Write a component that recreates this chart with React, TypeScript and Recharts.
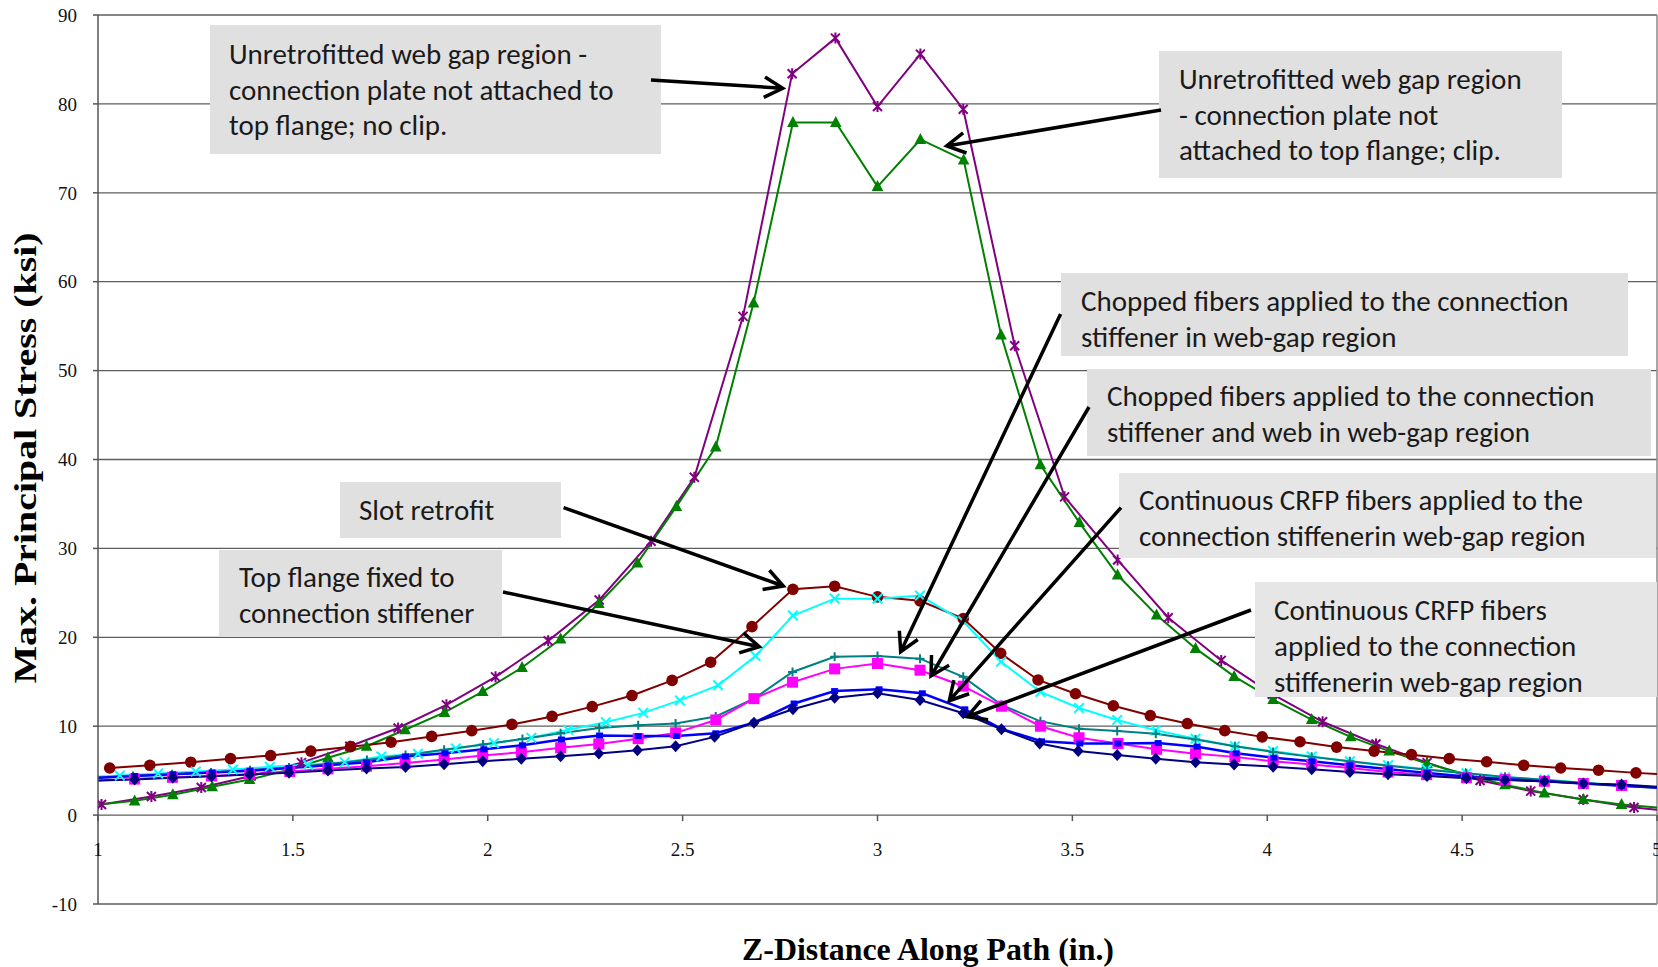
import React from 'react';
import { LineChart, Line, XAxis, YAxis, CartesianGrid, ReferenceLine } from 'recharts';

// ---------- data ----------
const X_TICKS = [1, 1.5, 2, 2.5, 3, 3.5, 4, 4.5, 5];
const Y_TICKS = [-10, 0, 10, 20, 30, 40, 50, 60, 70, 80, 90];

const NO_CLIP_X = [1.009, 1.137, 1.265, 1.393, 1.522, 1.646, 1.77, 1.894, 2.02, 2.155, 2.286, 2.419, 2.53, 2.655, 2.781, 2.892, 3.0, 3.11, 3.22, 3.352, 3.48, 3.616, 3.746, 3.882, 4.013, 4.142, 4.279, 4.41, 4.546, 4.676, 4.811, 4.941, 5.0];
const NO_CLIP_Y = [1.2, 2.1, 3.1, 4.4, 5.9, 7.75, 9.8, 12.4, 15.55, 19.6, 24.2, 30.8, 38.0, 56.1, 83.4, 87.4, 79.7, 85.6, 79.4, 52.8, 35.8, 28.7, 22.2, 17.4, 13.6, 10.5, 8.0, 5.9, 3.9, 2.7, 1.75, 0.85, 0.6];

const CLIP_X = [1.0, 1.094, 1.192, 1.293, 1.389, 1.49, 1.59, 1.689, 1.788, 1.889, 1.987, 2.088, 2.187, 2.285, 2.384, 2.484, 2.585, 2.682, 2.783, 2.893, 3.0, 3.11, 3.221, 3.317, 3.418, 3.518, 3.616, 3.716, 3.816, 3.915, 4.015, 4.114, 4.214, 4.313, 4.41, 4.509, 4.61, 4.711, 4.811, 4.909, 5.0];
const CLIP_Y = [1.2, 1.6, 2.3, 3.2, 4.0, 5.1, 6.45, 7.75, 9.6, 11.55, 13.9, 16.6, 19.8, 23.8, 28.35, 34.7, 41.4, 57.6, 77.9, 77.9, 70.7, 76.0, 73.7, 54.0, 39.4, 32.9, 27.0, 22.5, 18.75, 15.6, 13.0, 10.75, 8.8, 7.2, 5.8, 4.6, 3.4, 2.5, 1.75, 1.2, 0.85];

const SLOT_X = [1.03, 1.133, 1.238, 1.34, 1.443, 1.546, 1.648, 1.752, 1.856, 1.959, 2.062, 2.165, 2.268, 2.37, 2.473, 2.572, 2.678, 2.783, 2.89, 3.0, 3.109, 3.22, 3.316, 3.412, 3.508, 3.605, 3.7, 3.795, 3.891, 3.987, 4.084, 4.178, 4.274, 4.37, 4.467, 4.563, 4.658, 4.753, 4.85, 4.946, 5.0];
const SLOT_Y = [5.3, 5.6, 5.95, 6.35, 6.7, 7.2, 7.7, 8.2, 8.85, 9.5, 10.2, 11.1, 12.2, 13.45, 15.15, 17.2, 21.2, 25.4, 25.75, 24.55, 24.1, 22.1, 18.2, 15.2, 13.65, 12.3, 11.2, 10.3, 9.5, 8.8, 8.25, 7.65, 7.2, 6.8, 6.35, 6.0, 5.6, 5.3, 5.05, 4.75, 4.62];

const FLANGE_X = [1.0, 1.056, 1.154, 1.251, 1.346, 1.441, 1.539, 1.633, 1.727, 1.821, 1.918, 2.016, 2.112, 2.206, 2.303, 2.399, 2.493, 2.591, 2.687, 2.783, 2.89, 3.0, 3.109, 3.22, 3.317, 3.418, 3.517, 3.615, 3.714, 3.816, 3.917, 4.015, 4.114, 4.212, 4.31, 4.409, 4.511, 4.61, 4.711, 4.811, 4.909, 5.0];
const FLANGE_Y = [4.35, 4.45, 4.68, 4.9, 5.13, 5.43, 5.66, 5.95, 6.6, 6.9, 7.5, 8.1, 8.7, 9.6, 10.45, 11.5, 12.9, 14.6, 17.9, 22.45, 24.35, 24.35, 24.7, 21.8, 17.25, 13.85, 12.05, 10.7, 9.55, 8.6, 7.75, 7.2, 6.6, 6.05, 5.6, 5.15, 4.7, 4.25, 4.0, 3.65, 3.35, 3.07];

const CHOP_STIFF_X = [1.0, 1.09, 1.19, 1.29, 1.39, 1.49, 1.59, 1.69, 1.789, 1.888, 1.988, 2.089, 2.187, 2.286, 2.386, 2.482, 2.585, 2.683, 2.782, 2.89, 3.0, 3.109, 3.22, 3.318, 3.418, 3.517, 3.615, 3.714, 3.816, 3.917, 4.015, 4.114, 4.212, 4.31, 4.41, 4.511, 4.61, 4.711, 4.811, 4.909, 5.0];
const CHOP_STIFF_Y = [4.2, 4.4, 4.6, 4.8, 5.05, 5.35, 5.75, 6.2, 6.75, 7.35, 7.95, 8.55, 9.2, 9.8, 10.1, 10.3, 11.1, 13.1, 16.1, 17.8, 17.9, 17.6, 15.55, 12.4, 10.55, 9.7, 9.45, 9.15, 8.5, 7.75, 7.1, 6.55, 6.05, 5.55, 5.1, 4.7, 4.3, 3.95, 3.6, 3.3, 3.05];

const CHOP_WEB_X = [1.0, 1.094, 1.191, 1.291, 1.389, 1.492, 1.59, 1.689, 1.788, 1.888, 1.987, 2.086, 2.187, 2.285, 2.386, 2.482, 2.585, 2.683, 2.782, 2.89, 3.0, 3.109, 3.22, 3.318, 3.418, 3.517, 3.617, 3.716, 3.816, 3.917, 4.015, 4.114, 4.212, 4.31, 4.409, 4.511, 4.61, 4.711, 4.811, 4.909, 5.0];
const CHOP_WEB_Y = [3.9, 4.05, 4.25, 4.4, 4.6, 4.9, 5.2, 5.5, 5.85, 6.25, 6.7, 7.08, 7.57, 8.0, 8.6, 9.25, 10.7, 13.1, 14.95, 16.45, 17.05, 16.3, 14.5, 12.25, 10.0, 8.7, 8.05, 7.4, 6.9, 6.55, 6.05, 5.7, 5.3, 4.85, 4.55, 4.2, 4.0, 3.8, 3.55, 3.33, 3.1];

const CRFP_A_X = [1.0, 1.094, 1.192, 1.293, 1.39, 1.49, 1.59, 1.689, 1.789, 1.89, 1.99, 2.089, 2.189, 2.287, 2.386, 2.484, 2.585, 2.683, 2.786, 2.89, 3.004, 3.115, 3.224, 3.318, 3.421, 3.519, 3.617, 3.72, 3.82, 3.92, 4.017, 4.115, 4.212, 4.313, 4.41, 4.509, 4.61, 4.711, 4.811, 4.909, 5.0];
const CRFP_A_Y = [4.2, 4.4, 4.6, 4.8, 5.0, 5.3, 5.6, 5.95, 6.6, 6.95, 7.4, 7.85, 8.5, 8.95, 8.9, 8.9, 9.2, 10.4, 12.55, 13.95, 14.15, 13.7, 11.9, 9.7, 8.3, 8.05, 8.05, 8.1, 7.7, 6.95, 6.45, 6.05, 5.6, 5.15, 4.75, 4.35, 4.05, 3.8, 3.55, 3.3, 3.1];

const CRFP_B_X = [1.0, 1.094, 1.192, 1.291, 1.389, 1.49, 1.59, 1.689, 1.789, 1.888, 1.987, 2.086, 2.187, 2.285, 2.384, 2.482, 2.582, 2.683, 2.783, 2.89, 3.0, 3.109, 3.22, 3.318, 3.416, 3.515, 3.615, 3.714, 3.816, 3.915, 4.015, 4.114, 4.212, 4.31, 4.41, 4.511, 4.61, 4.711, 4.811, 4.909, 5.0];
const CRFP_B_Y = [3.9, 4.0, 4.2, 4.38, 4.57, 4.76, 5.02, 5.24, 5.42, 5.73, 6.06, 6.33, 6.63, 6.93, 7.3, 7.75, 8.8, 10.4, 11.9, 13.2, 13.7, 12.95, 11.45, 9.65, 8.05, 7.2, 6.75, 6.35, 5.95, 5.7, 5.45, 5.15, 4.85, 4.6, 4.4, 4.15, 3.95, 3.8, 3.55, 3.45, 3.2];

const NOTE_TEXTS = [
  ['Unretrofitted web gap region -', 'connection plate not attached to', 'top flange; no clip.'],
  ['Unretrofitted web gap region', '- connection plate not', 'attached to top flange; clip.'],
  ['Chopped fibers applied to the connection', 'stiffener in web-gap region'],
  ['Chopped fibers applied to the connection', 'stiffener and web in web-gap region'],
  ['Continuous CRFP fibers applied to the', 'connection stiffenerin web-gap region'],
  ['Continuous CRFP fibers', 'applied to the connection', 'stiffenerin web-gap region'],
  ['Slot retrofit'],
  ['Top flange fixed to', 'connection stiffener'],
];

const X_TITLE = 'Z-Distance Along Path (in.)';
const Y_TITLE = 'Max. Principal Stress (ksi)';

// ---------- layout ----------
const W = 1658;
const H = 967;
const PLOT_TOP = 15;
const PLOT_BOTTOM = 904;
const X_MIN = 1;
const X_MAX = 5;
const Y_MIN = -10;
const Y_MAX = 90;
const ZERO_Y = PLOT_TOP + ((PLOT_BOTTOM - PLOT_TOP) * (Y_MAX - 0)) / (Y_MAX - Y_MIN);

const NOTE_BOXES = [
  { x: 210, y: 25, w: 451, h: 129, tx: 229, ty: [54, 90, 125], fill: '#e0e0e0' },
  { x: 1159, y: 51, w: 403, h: 127, tx: 1179, ty: [79, 115, 150], fill: '#e0e0e0' },
  { x: 1061, y: 273, w: 567, h: 83, tx: 1081, ty: [301, 337], fill: '#e0e0e0' },
  { x: 1087, y: 369, w: 564, h: 87, tx: 1107, ty: [396, 432], fill: '#e0e0e0' },
  { x: 1119, y: 473, w: 537, h: 85, tx: 1139, ty: [500, 536], fill: '#e6e6e6' },
  { x: 1255, y: 582, w: 402, h: 115, tx: 1274, ty: [610, 646, 682], fill: '#e6e6e6' },
  { x: 340, y: 482, w: 221, h: 56, tx: 359, ty: [510], fill: '#e0e0e0' },
  { x: 219, y: 550, w: 283, h: 87, tx: 239, ty: [577, 613], fill: '#e0e0e0' },
];

const ARROWS = [
  [651, 80, 782.7, 88.3],
  [1161, 110, 946.7, 146],
  [563.6, 507.6, 783.3, 586],
  [503, 592, 759.3, 646.7],
  [1060.6, 314, 900.7, 651.7],
  [1089, 407, 931, 676],
  [1121, 507.6, 949.3, 700.7],
  [1251, 610, 967.3, 716.7],
];

const SERIF = '"Liberation Serif", "Times New Roman", serif';
const SANS = 'Carlito, Calibri, Lato, "Open Sans", sans-serif';

const toPts = (xs: number[], ys: number[]) => xs.map((x, i) => ({ x, y: ys[i] }));

const SERIES = [
  { key: 'noClip', data: toPts(NO_CLIP_X, NO_CLIP_Y), color: '#800080', marker: 'star', width: 2 },
  { key: 'clip', data: toPts(CLIP_X, CLIP_Y), color: '#008000', marker: 'triangle', width: 2 },
  { key: 'slot', data: toPts(SLOT_X, SLOT_Y), color: '#800000', marker: 'circle', width: 2 },
  { key: 'flange', data: toPts(FLANGE_X, FLANGE_Y), color: '#00FFFF', marker: 'x', width: 2 },
  { key: 'chopStiff', data: toPts(CHOP_STIFF_X, CHOP_STIFF_Y), color: '#008080', marker: 'plus', width: 2 },
  { key: 'chopWeb', data: toPts(CHOP_WEB_X, CHOP_WEB_Y), color: '#FF00FF', marker: 'square', width: 2 },
  { key: 'crfpA', data: toPts(CRFP_A_X, CRFP_A_Y), color: '#0000FF', marker: 'smallSquare', width: 2.5 },
  { key: 'crfpB', data: toPts(CRFP_B_X, CRFP_B_Y), color: '#000080', marker: 'diamond', width: 2 },
];

const makeDot = (kind: string, color: string) => (props: any) => {
  const { cx, cy, payload, index } = props;
  const key = `${kind}-${index}`;
  if (cx == null || cy == null || payload.x <= X_MIN || payload.x >= X_MAX) return <g key={key} />;
  switch (kind) {
    case 'circle':
      return <circle key={key} cx={cx} cy={cy} r={5.8} fill={color} />;
    case 'square':
      return <rect key={key} x={cx - 5.5} y={cy - 5.5} width={11} height={11} fill={color} />;
    case 'smallSquare':
      return <rect key={key} x={cx - 3.5} y={cy - 3} width={7} height={6} fill={color} />;
    case 'diamond':
      return <path key={key} d={`M${cx},${cy - 6}L${cx + 5.5},${cy}L${cx},${cy + 6}L${cx - 5.5},${cy}Z`} fill={color} />;
    case 'triangle':
      return <path key={key} d={`M${cx},${cy - 6.5}L${cx + 5.8},${cy + 4.5}L${cx - 5.8},${cy + 4.5}Z`} fill={color} />;
    case 'x':
      return <path key={key} d={`M${cx - 4.8},${cy - 4.8}L${cx + 4.8},${cy + 4.8}M${cx - 4.8},${cy + 4.8}L${cx + 4.8},${cy - 4.8}`} stroke={color} strokeWidth={2} />;
    case 'plus':
      return <path key={key} d={`M${cx - 4.5},${cy}L${cx + 4.5},${cy}M${cx},${cy - 4.5}L${cx},${cy + 4.5}`} stroke={color} strokeWidth={2} />;
    case 'star':
      return <path key={key} d={`M${cx - 4.5},${cy - 4.5}L${cx + 4.5},${cy + 4.5}M${cx - 4.5},${cy + 4.5}L${cx + 4.5},${cy - 4.5}M${cx},${cy - 5.5}L${cx},${cy + 5.5}`} stroke={color} strokeWidth={2} />;
    default:
      return <g key={key} />;
  }
};

const XTick = (props: any) => {
  const { x, payload } = props;
  return (
    <g>
      <line x1={x} x2={x} y1={ZERO_Y} y2={ZERO_Y + 6} stroke="#555" strokeWidth={1.5} />
      <text x={x} y={ZERO_Y + 41} textAnchor="middle" fontFamily={SERIF} fontSize={19} fill="#111">
        {payload.value}
      </text>
    </g>
  );
};

const arrowPath = (a: number[]) => {
  const [x1, y1, x2, y2] = a;
  const dx = x1 - x2;
  const dy = y1 - y2;
  const len = Math.sqrt(dx * dx + dy * dy);
  const ux = dx / len;
  const uy = dy / len;
  const th = (29 * Math.PI) / 180;
  const L = 21;
  const r1x = ux * Math.cos(th) - uy * Math.sin(th);
  const r1y = ux * Math.sin(th) + uy * Math.cos(th);
  const r2x = ux * Math.cos(-th) - uy * Math.sin(-th);
  const r2y = ux * Math.sin(-th) + uy * Math.cos(-th);
  return `M${x1},${y1}L${x2},${y2}M${x2 + r1x * L},${y2 + r1y * L}L${x2},${y2}L${x2 + r2x * L},${y2 + r2y * L}`;
};

export default function App() {
  return (
    <div style={{ position: 'absolute', left: 0, top: 0, width: W, height: H, background: '#fff' }}>
      <LineChart width={W} height={H} margin={{ top: PLOT_TOP, right: 1, left: 0, bottom: 0 }}>
        <CartesianGrid horizontal vertical={false} stroke="#5e5e5e" strokeWidth={1.3} />
        <XAxis
          dataKey="x"
          type="number"
          domain={[X_MIN, X_MAX]}
          ticks={X_TICKS}
          allowDataOverflow
          height={H - PLOT_BOTTOM}
          axisLine={false}
          tickLine={false}
          tick={<XTick />}
          interval={0}
        />
        <YAxis
          type="number"
          domain={[Y_MIN, Y_MAX]}
          ticks={Y_TICKS}
          allowDataOverflow
          width={98}
          interval={0}
          tickSize={5}
          tickMargin={16}
          axisLine={{ stroke: '#555', strokeWidth: 1.5 }}
          tickLine={{ stroke: '#555', strokeWidth: 1.5 }}
          tick={{ fontFamily: SERIF, fontSize: 19, fill: '#111' }}
        />
        <ReferenceLine x={X_MAX} stroke="#8a8a8a" strokeWidth={1.5} />
        {SERIES.map((s) => (
          <Line
            key={s.key}
            data={s.data}
            dataKey="y"
            type="linear"
            stroke={s.color}
            strokeWidth={s.width}
            dot={makeDot(s.marker, s.color)}
            activeDot={false}
            isAnimationActive={false}
          />
        ))}
      </LineChart>
      <svg width={W} height={H} style={{ position: 'absolute', left: 0, top: 0, pointerEvents: 'none' }}>
        {NOTE_BOXES.map((b, i) => (
          <g key={`note-${i}`}>
            <rect x={b.x} y={b.y} width={b.w} height={b.h} fill={b.fill} />
            {NOTE_TEXTS[i].map((line, j) => (
              <text key={j} x={b.tx} y={b.ty[j]} dominantBaseline="central" fontFamily={SANS} fontSize={29} fill="#1a1a1a">
                {line}
              </text>
            ))}
          </g>
        ))}
        {ARROWS.map((a, i) => (
          <path key={`arrow-${i}`} d={arrowPath(a)} stroke="#000" strokeWidth={3.5} fill="none" strokeLinecap="butt" />
        ))}
        <text x={928} y={960} textAnchor="middle" fontFamily={SERIF} fontWeight="bold" fontSize={31} textLength={372} lengthAdjust="spacingAndGlyphs" fill="#000">
          {X_TITLE}
        </text>
        <text
          x={0}
          y={0}
          transform="translate(36,458) rotate(-90)"
          textAnchor="middle"
          fontFamily={SERIF}
          fontWeight="bold"
          fontSize={31}
          textLength={451}
          lengthAdjust="spacingAndGlyphs"
          fill="#000"
        >
          {Y_TITLE}
        </text>
      </svg>
    </div>
  );
}
